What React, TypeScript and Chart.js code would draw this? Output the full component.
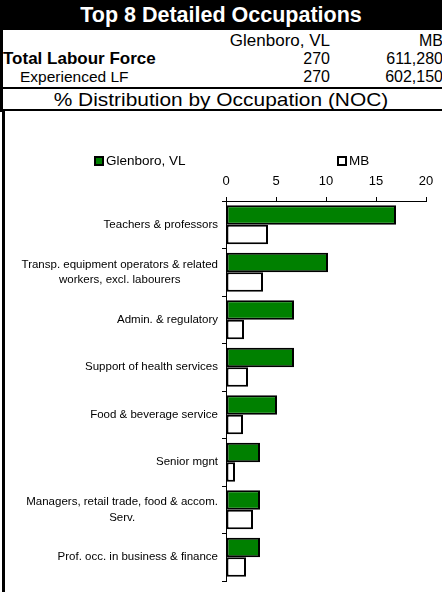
import React, { useEffect, useRef } from "react";
import { Chart, registerables } from "chart.js";

Chart.register(...registerables);

const categories: (string | string[])[] = [
  "Teachers & professors",
  ["Transp. equipment operators & related", "workers, excl. labourers"],
  "Admin. & regulatory",
  "Support of health services",
  "Food & beverage service",
  "Senior mgnt",
  ["Managers, retail trade, food & accom.", "Serv."],
  "Prof. occ. in business & finance",
];
const seriesNames = ["Glenboro, VL", "MB"];
const glenboro = [17.0, 10.2, 6.8, 6.8, 5.1, 3.4, 3.4, 3.4];
const mb = [4.2, 3.7, 1.8, 2.2, 1.7, 0.9, 2.7, 2.0];
const xTicks = [0, 5, 10, 15, 20];
const tableHeader = ["Glenboro, VL", "MB"];
const totalLF = ["270", "611,280"];
const experiencedLF = ["270", "602,150"];

const FONT = 'Arial, "Liberation Sans", sans-serif';

const legendPlugin = {
  id: "customLegend",
  afterDraw(chart: any) {
    const ctx = chart.ctx;
    const positions = [95, 338];
    ctx.save();
    chart.data.datasets.forEach((ds: any, i: number) => {
      const x = positions[i];
      const y = 49;
      ctx.fillStyle = ds.backgroundColor;
      ctx.fillRect(x, y - 4, 8, 8);
      ctx.strokeStyle = "#000";
      ctx.lineWidth = 2;
      ctx.strokeRect(x, y - 4, 8, 8);
      ctx.fillStyle = "#000";
      ctx.font = `13.5px ${FONT}`;
      ctx.textBaseline = "middle";
      ctx.textAlign = "left";
      ctx.fillText(ds.label, x + 11, y);
    });
    ctx.restore();
  },
};

const yLabelPlugin = {
  id: "yLabels",
  afterDraw(chart: any) {
    const ctx = chart.ctx;
    const yScale = chart.scales.y;
    const right = yScale.right - 8;
    const lh = 15.5;
    ctx.save();
    ctx.fillStyle = "#000";
    ctx.font = `11.5px ${FONT}`;
    ctx.textBaseline = "middle";
    (chart.data.labels as any[]).forEach((lab: any, i: number) => {
      const lines: string[] = Array.isArray(lab) ? lab : [lab];
      const yc = yScale.getPixelForValue(i);
      const w = Math.max(...lines.map((l) => ctx.measureText(l).width));
      const y0 = yc - ((lines.length - 1) * lh) / 2;
      lines.forEach((l, k) => {
        if (lines.length === 1) {
          ctx.textAlign = "right";
          ctx.fillText(l, right, y0 + k * lh);
        } else {
          ctx.textAlign = "center";
          ctx.fillText(l, right - w / 2, y0 + k * lh);
        }
      });
    });
    ctx.restore();
  },
};

export default function App() {
  const ref = useRef<HTMLCanvasElement | null>(null);
  useEffect(() => {
    if (!ref.current) return;
    const chart = new Chart(ref.current, {
      type: "bar",
      data: {
        labels: categories,
        datasets: [
          {
            label: seriesNames[0],
            data: glenboro,
            backgroundColor: "#008000",
            borderColor: "#000",
            borderWidth: 2,
            borderSkipped: false,
          },
          {
            label: seriesNames[1],
            data: mb,
            backgroundColor: "#ffffff",
            borderColor: "#000",
            borderWidth: 2,
            borderSkipped: false,
          },
        ],
      },
      options: {
        indexAxis: "y",
        animation: false,
        responsive: false,
        maintainAspectRatio: false,
        datasets: { bar: { categoryPercentage: 0.82, barPercentage: 1 } },
        layout: { padding: { left: 8, right: 16, top: 59, bottom: 11 } },
        plugins: { legend: { display: false }, tooltip: { enabled: false } },
        scales: {
          x: {
            position: "top",
            min: 0,
            max: 20,
            afterBuildTicks: (scale: any) => {
              scale.ticks = xTicks.map((v) => ({ value: v }));
            },
            afterFit: (scale: any) => {
              scale.height = 30;
            },
            grid: {
              drawOnChartArea: false,
              tickLength: 4,
              color: "#000",
              lineWidth: 1,
            },
            border: { display: true, color: "#000", width: 1 },
            ticks: {
              color: "#000",
              font: { family: FONT, size: 13 },
              padding: 8,
              maxRotation: 0,
            },
          },
          y: {
            afterFit: (scale: any) => {
              scale.width = 218;
            },
            grid: {
              offset: true,
              drawOnChartArea: false,
              tickLength: 4,
              color: "#000",
              lineWidth: 1,
            },
            border: { display: true, color: "#000", width: 1 },
            ticks: { display: false, autoSkip: false },
          },
        },
      },
      plugins: [legendPlugin, yLabelPlugin],
    } as any);
    return () => chart.destroy();
  }, []);

  const text = (s: React.CSSProperties): React.CSSProperties => ({
    position: "absolute",
    fontFamily: FONT,
    fontSize: 16,
    color: "#000",
    whiteSpace: "nowrap",
    lineHeight: "18px",
    ...s,
  });

  return (
    <div
      style={{
        position: "fixed",
        left: 0,
        top: 0,
        width: 442,
        height: 592,
        background: "#fff",
        overflow: "hidden",
      }}
    >
      <div
        style={{
          position: "absolute",
          left: 0,
          top: 0,
          width: 442,
          height: 30,
          background: "#000",
          color: "#fff",
          fontFamily: FONT,
          fontWeight: "bold",
          fontSize: 21.5,
          lineHeight: "30px",
          textAlign: "center",
        }}
      >
        Top 8 Detailed Occupations
      </div>
      <div style={{ position: "absolute", left: 0, top: 30, width: 3, height: 82, background: "#000" }} />
      <div style={{ position: "absolute", left: 2, top: 110, width: 3, height: 482, background: "#000" }} />
      <div style={text({ right: 442 - 330, top: 32, fontSize: 17 })}>{tableHeader[0]}</div>
      <div style={text({ right: -1, top: 32 })}>{tableHeader[1]}</div>
      <div style={text({ left: 3, top: 50, fontWeight: "bold", fontSize: 17 })}>Total Labour Force</div>
      <div style={text({ right: 442 - 330, top: 50 })}>{totalLF[0]}</div>
      <div style={text({ right: -1, top: 50 })}>{totalLF[1]}</div>
      <div style={text({ left: 20, top: 68, fontSize: 15.5 })}>Experienced LF</div>
      <div style={text({ right: 442 - 330, top: 68 })}>{experiencedLF[0]}</div>
      <div style={text({ right: -1, top: 68 })}>{experiencedLF[1]}</div>
      <div style={{ position: "absolute", left: 0, top: 87, width: 442, height: 2, background: "#000" }} />
      <div
        style={text({
          left: 0,
          width: 442,
          textAlign: "center",
          top: 90,
          fontSize: 19,
          lineHeight: "19px",
          transform: "scaleX(1.1)",
          transformOrigin: "221px 50%",
        })}
      >
        % Distribution by Occupation (NOC)
      </div>
      <div style={{ position: "absolute", left: 0, top: 109, width: 442, height: 2, background: "#000" }} />
      <canvas
        ref={ref}
        width={442}
        height={480}
        style={{ position: "absolute", left: 0, top: 112, width: 442, height: 480 }}
      />
    </div>
  );
}
